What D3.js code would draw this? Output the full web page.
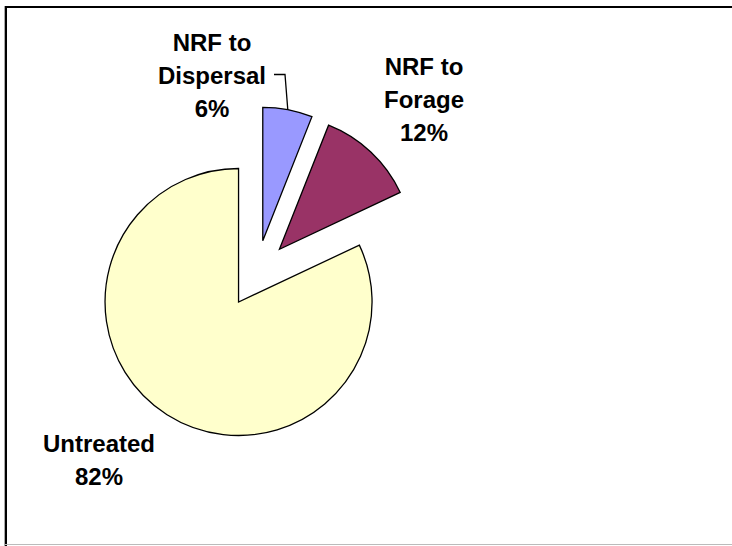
<!DOCTYPE html>
<html>
<head>
<meta charset="utf-8">
<script src="https://cdn.jsdelivr.net/npm/d3@7"></script>
<style>
  html, body { margin: 0; padding: 0; background: #fff; }
  svg { display: block; }
  .pie-label { font-family: "Liberation Sans", Arial, sans-serif; font-weight: bold; font-size: 24px; fill: #000; }
</style>
</head>
<body>
<div id="chart"></div>
<script>
// data
const categories = [`NRF to Dispersal`, `NRF to Forage`, `Untreated`];
const values = [6, 12, 82];
const nameLines = [[`NRF to`, `Dispersal`], [`NRF to`, `Forage`], [`Untreated`]];

// layout
const width = 732;
const height = 546;
const center = {x: 256.5, y: 273.7};
const radius = 133.5;
const explode = 33.5;
const colors = [`#9999ff`, `#993366`, `#ffffcc`];
const labelPos = [[212, 50.5], [424, 74.5], [99, 452]];
const lineHeight = 33;

const svg = d3.select(`#chart`)
  .append(`svg`)
    .attr(`width`, width)
    .attr(`height`, height);

// chart area border (left + top dark, bottom grey)
svg.append(`line`).attr(`x1`, 4.5).attr(`x2`, 4.5).attr(`y1`, 6).attr(`y2`, height).attr(`stroke`, `#aaa`).attr(`stroke-width`, 1);
svg.append(`line`).attr(`x1`, 6).attr(`x2`, 6).attr(`y1`, 6).attr(`y2`, height).attr(`stroke`, `#000`).attr(`stroke-width`, 2);
svg.append(`line`).attr(`x1`, 5).attr(`x2`, width).attr(`y1`, 7).attr(`y2`, 7).attr(`stroke`, `#000`).attr(`stroke-width`, 2);
svg.append(`line`).attr(`x1`, 5).attr(`x2`, width).attr(`y1`, 544.5).attr(`y2`, 544.5).attr(`stroke`, `#bbb`).attr(`stroke-width`, 1);

const total = d3.sum(values);
const pie = d3.pie().sort(null).value(d => d)(values);
const arc = d3.arc().innerRadius(0).outerRadius(radius);
const edge = d3.arc().innerRadius(radius).outerRadius(radius);

const offset = d => {
  const mid = (d.startAngle + d.endAngle) / 2;
  return [explode * Math.sin(mid), -explode * Math.cos(mid)];
};

const g = svg.append(`g`)
  .attr(`transform`, `translate(${center.x},${center.y})`);

g.selectAll(`.slice`)
  .data(pie)
  .enter().append(`path`)
    .attr(`class`, `slice`)
    .attr(`transform`, d => `translate(${offset(d)})`)
    .attr(`d`, arc)
    .attr(`fill`, (d, i) => colors[i])
    .attr(`stroke`, `#000`)
    .attr(`stroke-width`, 1.3)
    .attr(`stroke-linejoin`, `miter`);

// labels
pie.forEach((d, i) => {
  const lines = nameLines[i].concat(`${Math.round(values[i] / total * 100)}%`);
  const text = svg.append(`text`)
    .attr(`class`, `pie-label`)
    .attr(`text-anchor`, `middle`);
  lines.forEach((l, j) => {
    text.append(`tspan`)
      .attr(`x`, labelPos[i][0])
      .attr(`y`, labelPos[i][1] + j * lineHeight)
      .text(l);
  });
});

// leader line for the small slice
const d0 = pie[0];
const [ox, oy] = offset(d0);
const [ex, ey] = edge.centroid(d0);
const ly = labelPos[0][1] + lineHeight - 9;
svg.append(`path`)
  .attr(`d`, d3.line()([[274, ly], [285, ly], [center.x + ox + ex, center.y + oy + ey]]))
  .attr(`fill`, `none`)
  .attr(`stroke`, `#000`)
  .attr(`stroke-width`, 1.3);
</script>
</body>
</html>
